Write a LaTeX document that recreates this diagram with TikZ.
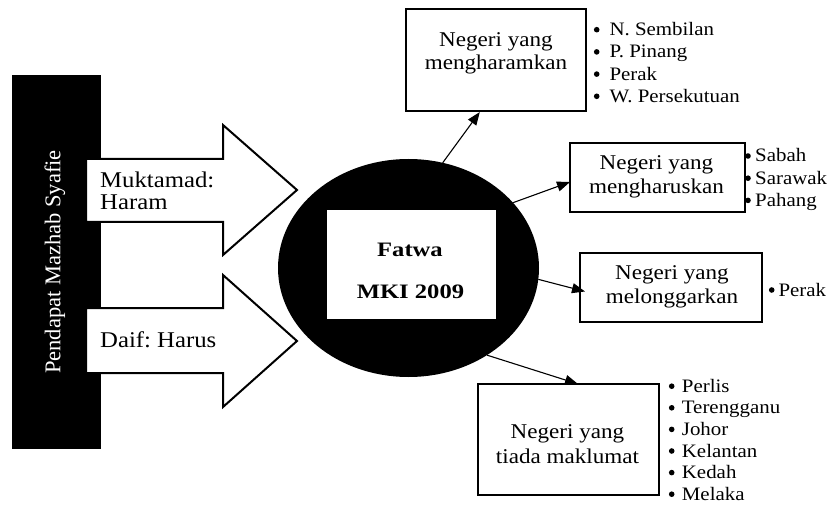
\documentclass[tikz,border=0pt]{standalone}
\usepackage{fontspec}
\setmainfont{Liberation Serif}[FakeStretch=1.1]
\newfontfamily\plainserif{Liberation Serif}
\newfontfamily\widebold{Liberation Serif}[FakeStretch=1.2]
\usetikzlibrary{shapes.geometric,arrows.meta,calc}
\frenchspacing
\begin{document}
\begin{tikzpicture}[x=1pt,y=-1pt,
  box/.style={draw, line width=2pt, rectangle, inner sep=0pt, outer sep=0pt},
  boxtext/.style={font=\fontsize{21}{24}\selectfont, anchor=base, inner sep=0pt},
  item/.style={font=\fontsize{19}{22}\selectfont, anchor=base west, inner sep=0pt},
  bul/.style={circle, fill=black, minimum size=5.6pt, inner sep=0pt},
  lab/.style={font=\fontsize{22.5}{26}\selectfont, anchor=base west, inner sep=0pt},
  ftxt/.style={font=\widebold\bfseries\fontsize{20.5}{24}\selectfont, anchor=base, inner sep=0pt},
  conn/.style={line width=1.1pt, -{Triangle[length=13pt,width=10pt]}},
  bigarrow/.style={draw, fill=white, line width=2pt, line join=miter}]
\useasboundingbox (0,0) rectangle (838,505);

% vertical bar
\node[fill=black, minimum width=89pt, minimum height=374pt, inner sep=0pt] (bar) at (56.5,262) {};
\node[rotate=90, text=white, inner sep=0pt, font=\plainserif\fontsize{22.5}{27}\selectfont] (barlabel) at (55,262) {Pendapat Mazhab Syafie};

% big block arrows
\draw[bigarrow] (86,159) -- (223,159) -- (223,125) -- (297,190) -- (223,255) -- (223,222) -- (86,222) -- cycle;
\draw[bigarrow] (86,308) -- (223,308) -- (223,275) -- (297,341) -- (223,407) -- (223,373) -- (86,373) -- cycle;
\node[lab] (muk) at (100,187.7) {Muktamad:};
\node[lab] (har) at (100,209.3) {Haram};
\node[lab] (daif) at (100,347) {Daif: Harus};

% central ellipse
\node[ellipse, fill=black, minimum width=261pt, minimum height=218pt, inner sep=0pt, outer sep=0pt] (fatwa) at (408.5,268) {};
\node[fill=white, minimum width=169pt, minimum height=109pt, inner sep=0pt] (inner) at (411.5,264.5) {};
\node[ftxt] (f1) at (410,256) {Fatwa};
\node[ftxt] (f2) at (410.5,298) {MKI 2009};

% boxes
\node[box, minimum width=180pt, minimum height=101.7pt] (box1) at (496,60.2) {};
\node[box, minimum width=175pt, minimum height=68.4pt] (box2) at (657.5,177.5) {};
\node[box, minimum width=181.7pt, minimum height=68.4pt] (box3) at (670.85,287.5) {};
\node[box, minimum width=181pt, minimum height=111pt] (box4) at (568.5,439.5) {};

\node[boxtext] (b1a) at (496,47) {Negeri yang};
\node[boxtext] (b1b) at (496,69.5) {mengharamkan};
\node[boxtext] (b2a) at (656.5,169.3) {Negeri yang};
\node[boxtext] (b2b) at (656.5,193.3) {mengharuskan};
\node[boxtext] (b3a) at (672,279.3) {Negeri yang};
\node[boxtext] (b3b) at (672,303.3) {melonggarkan};
\node[boxtext] (b4a) at (567.5,438.3) {Negeri yang};
\node[boxtext] (b4b) at (567.5,463.3) {tiada maklumat};

% bullet lists
\foreach \t [count=\i from 0] in {N. Sembilan, P. Pinang, Perak, W. Persekutuan}{
  \node[bul] (ba\i) at (596.7,29.7+22.2*\i) {};
  \node[item] (la\i) at (609.3,35.7+22.2*\i) {\t};}
\foreach \t [count=\i from 0] in {Sabah, Sarawak, Pahang}{
  \node[bul] (bb\i) at (748,156+22.2*\i) {};
  \node[item] (lb\i) at (755,162+22.2*\i) {\t};}
\node[bul] (bc0) at (771.7,290) {};
\node[item] (lc0) at (778.3,296) {Perak};
\foreach \t [count=\i from 0] in {Perlis, Terengganu, Johor, Kelantan, Kedah, Melaka}{
  \node[bul] (bd\i) at (671.7,386.2+21.6*\i) {};
  \node[item] (ld\i) at (681.7,392.2+21.6*\i) {\t};}

% connectors
\draw[conn] (fatwa.72) -- ($(box1.south west)!0.41!(box1.south east)+(0,1)$);
\draw[conn] (fatwa.32) -- ($(box2.west)+(0,4.5)$);
\draw[conn] (fatwa.-5) -- ($(box3.west)+(5,4)$);
\draw[conn] (fatwa.-48.6) -- ($(box4.north west)+(100,0)$);
\end{tikzpicture}
\end{document}
